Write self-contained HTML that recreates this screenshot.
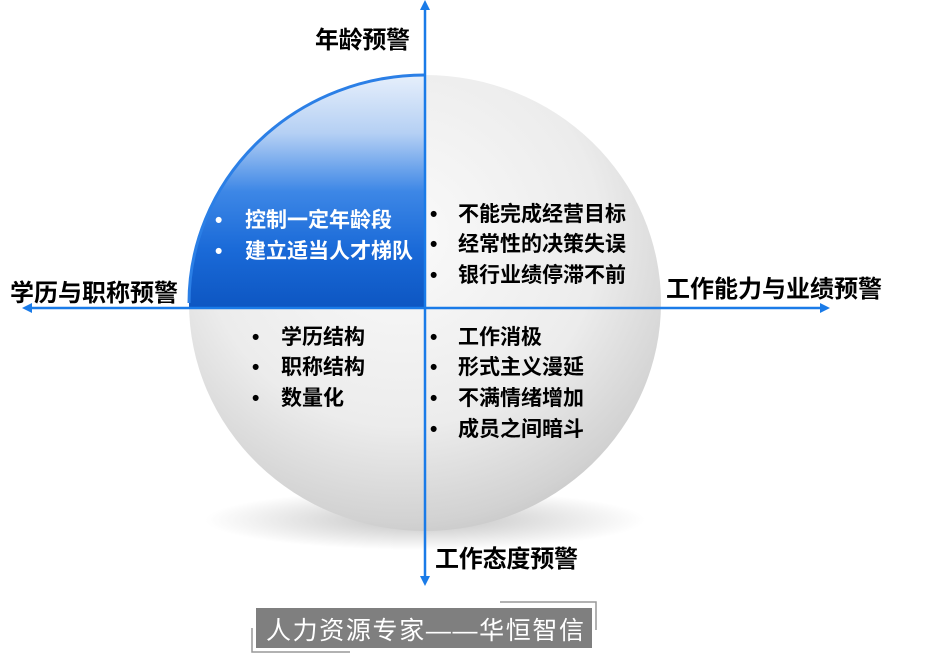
<!DOCTYPE html>
<html><head><meta charset="utf-8"><style>
body{margin:0;background:#fff;}
svg text{font-family:"Liberation Sans","Noto Sans CJK SC",sans-serif;font-weight:bold;}
</style></head><body>
<svg width="938" height="658" viewBox="0 0 938 658" xmlns="http://www.w3.org/2000/svg">
<defs>
<radialGradient id="sph" cx="0.45" cy="0.35" r="0.7">
<stop offset="0" stop-color="#fafafa"/><stop offset="0.6" stop-color="#ececec"/><stop offset="0.9" stop-color="#d2d2d2"/><stop offset="1" stop-color="#c4c4c4"/>
</radialGradient>
<radialGradient id="sh" cx="0.5" cy="0.5" r="0.5">
<stop offset="0" stop-color="#999" stop-opacity="0.6"/><stop offset="1" stop-color="#999" stop-opacity="0"/>
</radialGradient>
<linearGradient id="blue" x1="0" y1="75" x2="0" y2="308" gradientUnits="userSpaceOnUse">
<stop offset="0" stop-color="#e6effb"/><stop offset="0.25" stop-color="#b5d0f4"/><stop offset="0.5" stop-color="#3d87e6"/><stop offset="0.75" stop-color="#1a6ad8"/><stop offset="1" stop-color="#0d56c2"/>
</linearGradient>
<clipPath id="q"><rect x="0" y="0" width="425" height="308"/></clipPath>
</defs>
<ellipse cx="425" cy="520" rx="220" ry="30" fill="url(#sh)"/>
<ellipse cx="425" cy="303" rx="236" ry="228" fill="url(#sph)"/>
<ellipse cx="425" cy="303" rx="236" ry="228" fill="url(#blue)" clip-path="url(#q)"/>
<path d="M189 303 A236 228 0 0 1 425 75" fill="none" stroke="#2b7fe6" stroke-width="3" clip-path="url(#q)"/>
<g stroke="#1a7be8" stroke-width="2.5" fill="#1a7be8">
<line x1="30" y1="308" x2="822" y2="308"/>
<line x1="425" y1="8" x2="425" y2="580"/>
<polygon points="22,308 32,303 32,313" stroke="none"/>
<polygon points="830,308 820,303 820,313" stroke="none"/>
<polygon points="425,0 420,10 430,10" stroke="none"/>
<polygon points="425,586 420,576 430,576" stroke="none"/>
</g>
<g font-size="24" fill="#000">
<text x="315" y="48" textLength="95">年龄预警</text>
<text x="10" y="301" textLength="168">学历与职称预警</text>
<text x="666" y="297" textLength="216">工作能力与业绩预警</text>
<text x="435" y="567" textLength="143">工作态度预警</text>
</g>
<g font-size="21" fill="#fff">
<text x="215" y="227">•</text><text x="245" y="227">控制一定年龄段</text>
<text x="215" y="258">•</text><text x="245" y="258">建立适当人才梯队</text>
</g>
<g font-size="21" fill="#000">
<text x="430" y="221">•</text><text x="458" y="221">不能完成经营目标</text>
<text x="430" y="251">•</text><text x="458" y="251">经常性的决策失误</text>
<text x="430" y="282">•</text><text x="458" y="282">银行业绩停滞不前</text>
<text x="252" y="344">•</text><text x="281" y="344">学历结构</text>
<text x="252" y="374">•</text><text x="281" y="374">职称结构</text>
<text x="252" y="405">•</text><text x="281" y="405">数量化</text>
<text x="430" y="344">•</text><text x="458" y="344">工作消极</text>
<text x="430" y="374">•</text><text x="458" y="374">形式主义漫延</text>
<text x="430" y="405">•</text><text x="458" y="405">不满情绪增加</text>
<text x="430" y="436">•</text><text x="458" y="436">成员之间暗斗</text>
</g>
<rect x="256" y="608" width="336" height="40" fill="#7f7f7f"/>
<text x="266" y="639" font-size="25" fill="#fff" style="font-weight:normal" textLength="318">人力资源专家——华恒智信</text>
<g stroke="#999" stroke-width="1.5" fill="none">
<polyline points="500,602 596,602 596,630"/>
<polyline points="252,628 252,652 350,652"/>
</g>
</svg>
</body></html>
